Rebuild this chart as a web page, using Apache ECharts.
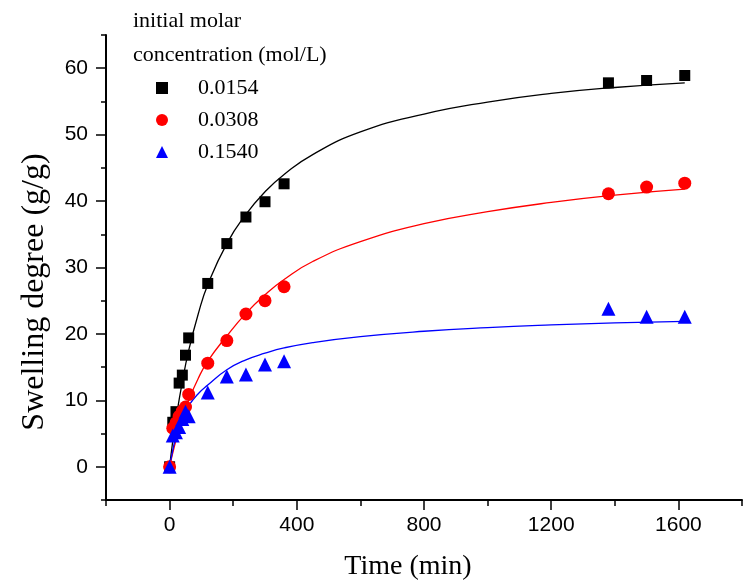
<!DOCTYPE html>
<html><head><meta charset="utf-8">
<script src="https://cdn.jsdelivr.net/npm/echarts@6/dist/echarts.min.js"></script>
<style>html,body{margin:0;padding:0;background:#fff}#c{width:752px;height:586px}</style>
</head><body><div id="c"></div>
<script>
// ---- data ----
const seriesNames = ['0.0154', '0.0308', '0.1540'];
const legendTitle = 'initial molar\nconcentration (mol/L)';
const xTitle = 'Time (min)';
const yTitle = 'Swelling degree (g/g)';
const timeMin = [0, 10, 20, 30, 40, 50, 60, 120, 180, 240, 300, 360, 1380, 1500, 1620];
const blackValues = [0, 6.7, 8.3, 12.6, 13.8, 16.8, 19.4, 27.6, 33.6, 37.6, 39.9, 42.6, 57.8, 58.15, 58.9];
const redValues = [0, 5.8, 6.6, 7.6, 8.4, 9.0, 10.9, 15.6, 19.0, 23.0, 25.0, 27.1, 41.1, 42.1, 42.7];
const blueValues = [0, 4.7, 5.2, 6.0, 7.2, 8.3, 7.6, 11.2, 13.6, 13.9, 15.4, 15.9, 23.8, 22.6, 22.6];
// fitted curves
const blackFitTime = [0, 10, 20, 40, 60, 90, 120, 180, 240, 300, 360, 450, 600, 800, 1000, 1200, 1400, 1620];
const blackFitValues = [0, 3.9, 7.2, 12.8, 17.5, 23.0, 27.4, 33.6, 38.0, 41.4, 44.0, 47.0, 50.4, 53.1, 54.9, 56.2, 57.1, 57.8];
const redFitTime = [0, 10, 20, 30, 40, 60, 90, 120, 180, 240, 300, 360, 450, 600, 800, 1000, 1200, 1400, 1620];
const redFitValues = [0, 2.1, 4.0, 5.7, 7.2, 10.0, 13.3, 15.9, 19.7, 23.1, 25.9, 28.2, 30.9, 33.9, 36.6, 38.4, 39.8, 40.9, 41.8];
const blueFitTime = [0, 10, 20, 30, 40, 60, 90, 120, 180, 240, 300, 360, 450, 600, 800, 1000, 1200, 1400, 1620];
const blueFitValues = [0, 2.5, 4.6, 6.2, 7.4, 9.2, 11.0, 12.3, 14.6, 16.1, 17.1, 17.9, 18.7, 19.6, 20.4, 20.95, 21.35, 21.65, 21.9];
const xMajorTicks = [0, 400, 800, 1200, 1600];
const yMajorTicks = [0, 10, 20, 30, 40, 50, 60];

const colors = ['#000000', '#ff0000', '#0000ff'];
const symbols = ['rect', 'circle', 'triangle'];
const symbolSizes = [11, 13, 14];
const pointSets = [blackValues, redValues, blueValues];
const fitSets = [[blackFitTime, blackFitValues], [redFitTime, redFitValues], [blueFitTime, blueFitValues]];

const zip = (a, b) => a.map((v, i) => [v, b[i]]);

const series = [];
fitSets.forEach((f, i) => {
  series.push({
    type: 'line', name: 'fit' + i, data: zip(f[0], f[1]), smooth: 0.5,
    showSymbol: false, symbol: 'none', z: 2,
    lineStyle: { color: colors[i], width: 1.3 }, silent: true
  });
});
pointSets.forEach((vals, i) => {
  series.push({
    type: 'scatter', name: seriesNames[i], data: zip(timeMin, vals),
    symbol: symbols[i], symbolSize: symbolSizes[i], z: 3,
    itemStyle: { color: colors[i], opacity: 1 }
  });
});

const axisFont = { fontFamily: 'Liberation Sans', fontSize: 21, color: '#000', formatter: v => String(v) };
const serif = 'Liberation Serif';

const option = {
  animation: false,
  backgroundColor: '#ffffff',
  title: {
    text: legendTitle, left: 133, top: 4, padding: 0,
    textStyle: { fontFamily: serif, fontSize: 22, fontWeight: 'normal', color: '#000', lineHeight: 34 }
  },
  legend: {
    data: seriesNames, orient: 'vertical', left: 156, top: 77, padding: 0,
    itemGap: 10, itemWidth: 12, itemHeight: 12,
    textStyle: { fontFamily: serif, fontSize: 22, color: '#000', padding: [0, 0, 0, 25] }
  },
  grid: { left: 106, right: 10, top: 35, bottom: 86 },
  xAxis: [{
    type: 'value', min: -200, max: 1800, interval: 200,
    axisLine: { onZero: false, lineStyle: { color: '#000', width: 2 } },
    axisTick: { length: 6, lineStyle: { color: '#000', width: 1.5 } },
    axisLabel: Object.assign({ customValues: xMajorTicks, margin: 15 }, axisFont),
    splitLine: { show: false }
  }, {
    type: 'value', min: -200, max: 1800, position: 'bottom',
    axisLine: { show: false, onZero: false },
    axisTick: { customValues: xMajorTicks, length: 10, lineStyle: { color: '#000', width: 1.5 } },
    axisLabel: { show: false }, splitLine: { show: false }
  }],
  yAxis: [{
    type: 'value', min: -5, max: 65, interval: 5,
    axisLine: { show: true, onZero: false, lineStyle: { color: '#000', width: 2 } },
    axisTick: { show: true, length: 5, lineStyle: { color: '#000', width: 1.5 } },
    axisLabel: Object.assign({ customValues: yMajorTicks, margin: 18 }, axisFont),
    splitLine: { show: false }
  }, {
    type: 'value', min: -5, max: 65, position: 'left',
    axisLine: { show: false, onZero: false },
    axisTick: { show: true, customValues: yMajorTicks, length: 10, lineStyle: { color: '#000', width: 1.5 } },
    axisLabel: { show: false }, splitLine: { show: false }
  }],
  graphic: [{
    type: 'text', x: 35, y: 292, rotation: Math.PI / 2,
    style: { text: yTitle, font: '32px "Liberation Serif"', fill: '#000', textAlign: 'center', textVerticalAlign: 'middle' }
  }, {
    type: 'text', x: 408, y: 567,
    style: { text: xTitle, font: '28px "Liberation Serif"', fill: '#000', textAlign: 'center', textVerticalAlign: 'middle' }
  }],
  series: series
};
const chart = echarts.init(document.getElementById('c'), null, { renderer: 'canvas' });
chart.setOption(option);
</script>
</body></html>
